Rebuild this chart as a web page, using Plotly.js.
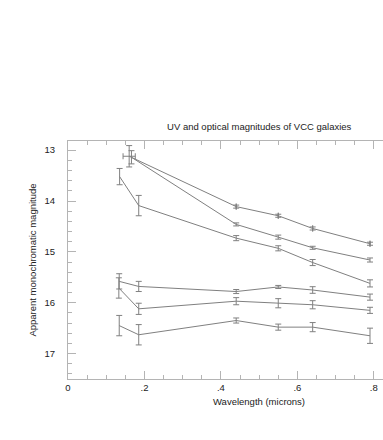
<!DOCTYPE html>
<html>
<head>
<meta charset="utf-8">
<script src="https://cdn.plot.ly/plotly-3.0.1.min.js"></script>
<style>
  html, body { margin: 0; padding: 0; background: #fff; overflow: hidden; }
  #myPlot { width: 383px; height: 440px; }
</style>
</head>
<body>
<div id="myPlot"></div>
<script>
// wavelengths (microns) of each galaxy's points
const wl1 = [0.160, 0.44, 0.55, 0.64, 0.79];
const wl2 = [0.166, 0.44, 0.55, 0.64, 0.79];
const wl3 = [0.135, 0.185, 0.44, 0.55, 0.64, 0.79];
const wl4 = [0.134, 0.185, 0.44, 0.55, 0.64, 0.79];
const wl5 = [0.133, 0.185, 0.44, 0.55, 0.64, 0.79];
const wl6 = [0.134, 0.185, 0.44, 0.55, 0.64, 0.79];

// apparent magnitudes
const mag1 = [13.12, 14.11, 14.29, 14.54, 14.84];
const mag2 = [13.14, 14.46, 14.71, 14.92, 15.16];
const mag3 = [13.52, 14.09, 14.73, 14.93, 15.21, 15.62];
const mag4 = [15.58, 15.68, 15.78, 15.69, 15.75, 15.89];
const mag5 = [15.71, 16.12, 15.97, 16.01, 16.04, 16.15];
const mag6 = [16.45, 16.63, 16.35, 16.48, 16.48, 16.65];

// magnitude errors
const err1 = [0.21, 0.03, 0.03, 0.03, 0.03];
const err2 = [0.13, 0.03, 0.04, 0.03, 0.04];
const err3 = [0.16, 0.20, 0.05, 0.05, 0.06, 0.07];
const err4 = [0.15, 0.10, 0.04, 0.03, 0.065, 0.06];
const err5 = [0.20, 0.11, 0.07, 0.09, 0.08, 0.06];
const err6 = [0.20, 0.20, 0.05, 0.06, 0.09, 0.15];

// wavelength error (only the first point of galaxy 1)
const wlErr1 = [0.016, 0, 0, 0, 0];

const xTickVals = [0, 0.2, 0.4, 0.6, 0.8];
const xTickText = ["0", ".2", ".4", ".6", ".8"];
const yTickVals = [13, 14, 15, 16, 17];

const lineCol = "#808080";
const axisCol = "#b4b4b4";
const textCol = "#222";
const font = "Liberation Sans, Arial, sans-serif";

function galaxy(x, y, e, ex){
    const t = {
        x: x,
        y: y,
        mode: "lines",
        line: {color: lineCol, width: 1},
        error_y: {type: "data", array: e, visible: true, color: lineCol, thickness: 1, width: 3},
        hoverinfo: "x+y",
        showlegend: false
    };
    if(ex){
        t.error_x = {type: "data", array: ex, visible: true, color: lineCol, thickness: 1, width: 3};
    }
    return t;
}

const data = [
    galaxy(wl1, mag1, err1, wlErr1),
    galaxy(wl2, mag2, err2),
    galaxy(wl3, mag3, err3),
    galaxy(wl4, mag4, err4),
    galaxy(wl5, mag5, err5),
    galaxy(wl6, mag6, err6)
];

const layout = {
    width: 383,
    height: 440,
    margin: {l: 68, r: 0, t: 141, b: 61},
    paper_bgcolor: "#fff",
    plot_bgcolor: "#fff",
    font: {family: font, size: 9.5, color: textCol},
    title: {
        text: "UV and optical magnitudes of VCC galaxies",
        font: {family: font, size: 9.5, color: textCol},
        xref: "paper", x: 0.607, xanchor: "center",
        yref: "container", y: 1 - 126.5 / 440, yanchor: "middle"
    },
    xaxis: {
        range: [0, 0.824],
        showgrid: false, zeroline: false,
        showline: true, linecolor: axisCol, linewidth: 1,
        mirror: "ticks",
        ticks: "inside", ticklen: 8, tickcolor: axisCol, tickwidth: 1,
        tickmode: "array", tickvals: xTickVals, ticktext: xTickText,
        minor: {tickmode: "linear", tick0: 0, dtick: 0.05, ticks: "inside", ticklen: 4, tickcolor: axisCol, showgrid: false},
        tickfont: {family: font, size: 9.5, color: textCol}
    },
    yaxis: {
        range: [17.5, 12.82],
        showgrid: false, zeroline: false,
        showline: true, linecolor: axisCol, linewidth: 1,
        ticks: "inside", ticklen: 8, tickcolor: axisCol, tickwidth: 1,
        tickmode: "array", tickvals: yTickVals,
        minor: {tickmode: "linear", tick0: 13, dtick: 0.2, ticks: "inside", ticklen: 4, tickcolor: axisCol, showgrid: false},
        ticklabelstandoff: 10,
        tickfont: {family: font, size: 9.5, color: textCol},
        title: {text: "Apparent monochromatic magnitude", font: {family: font, size: 9.5, color: textCol}, standoff: 6}
    },
    annotations: [{
        text: "Wavelength (microns)",
        xref: "paper", x: 0.607, xanchor: "center",
        yref: "paper", y: 0, yanchor: "middle", yshift: -22,
        showarrow: false,
        font: {family: font, size: 9.5, color: textCol}
    }]
};

Plotly.newPlot("myPlot", data, layout, {displayModeBar: false, staticPlot: true});
</script>
</body>
</html>
